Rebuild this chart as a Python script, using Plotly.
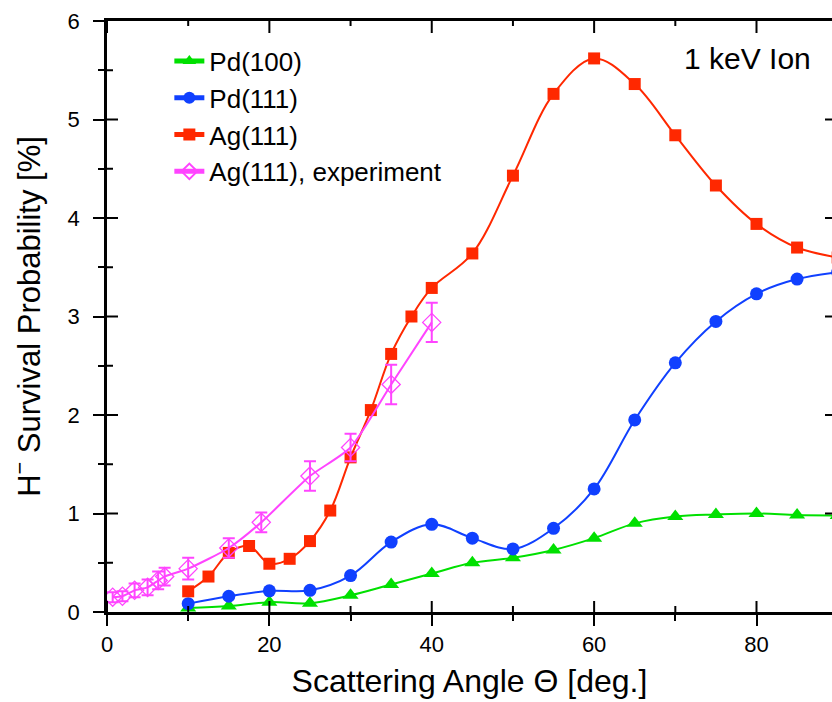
import plotly.graph_objects as go

# ---- data ----
angle_pd100 = [10, 15, 20, 25, 30, 35, 40, 45, 50, 55, 60, 65, 70, 75, 80, 85, 90]
pd100 = [0.04, 0.06, 0.10, 0.09, 0.17, 0.28, 0.39, 0.50, 0.55, 0.63, 0.75, 0.90, 0.97, 0.99, 1.00, 0.985, 0.98]

angle_pd111 = [10, 15, 20, 25, 30, 35, 40, 45, 50, 55, 60, 65, 70, 75, 80, 85, 90]
pd111 = [0.085, 0.16, 0.215, 0.22, 0.37, 0.71, 0.89, 0.75, 0.64, 0.85, 1.25, 1.95, 2.53, 2.95, 3.23, 3.38, 3.45]

angle_ag111 = [10, 12.5, 15, 17.5, 20, 22.5, 25, 27.5, 30, 32.5, 35, 37.5, 40, 45, 50, 55, 60, 65, 70, 75, 80, 85, 90]
ag111 = [0.21, 0.36, 0.60, 0.67, 0.49, 0.54, 0.72, 1.03, 1.57, 2.05, 2.62, 3.00, 3.29, 3.64, 4.43, 5.26, 5.62, 5.36, 4.84, 4.33, 3.94, 3.70, 3.60]

angle_exp = [0.7, 1.9, 3.4, 5.0, 6.3, 7.1, 10, 15, 19, 25, 30, 35, 40]
ag111_exp = [0.15, 0.16, 0.22, 0.25, 0.32, 0.36, 0.44, 0.65, 0.91, 1.38, 1.67, 2.31, 2.94]
ag111_exp_err = [0.05, 0.05, 0.07, 0.08, 0.09, 0.09, 0.11, 0.10, 0.10, 0.15, 0.14, 0.20, 0.20]

x_tick_vals = [0, 20, 40, 60, 80]
x_minor_vals = [10, 30, 50, 70]
y_tick_vals = [0, 1, 2, 3, 4, 5, 6]
y_minor_vals = [0.5, 1.5, 2.5, 3.5, 4.5, 5.5]

FONT = "Liberation Sans, Arial, sans-serif"
GREEN = "#00e000"
BLUE = "#1040ff"
RED = "#ff2800"
MAGENTA = "#ff44ff"

W, H = 832, 702
ML, MR, MT, MB = 107, 0, 21, 90
XR = [0, 89.3]
YR = [0, 6]
# data units per screen pixel (used to size the inner tick marks)
XPU = (XR[1] - XR[0]) / (W - ML - MR)
YPU = (YR[1] - YR[0]) / (H - MT - MB)

fig = go.Figure()

fig.add_trace(go.Scatter(
    x=angle_pd100, y=pd100, name="Pd(100)", mode="lines+markers",
    line=dict(color=GREEN, width=2, shape="spline", smoothing=1.0),
    marker=dict(symbol="triangle-up", size=14, color=GREEN)))
fig.add_trace(go.Scatter(
    x=angle_pd111, y=pd111, name="Pd(111)", mode="lines+markers",
    line=dict(color=BLUE, width=2, shape="spline", smoothing=1.0),
    marker=dict(symbol="circle", size=13, color=BLUE)))
fig.add_trace(go.Scatter(
    x=angle_ag111, y=ag111, name="Ag(111)", mode="lines+markers",
    line=dict(color=RED, width=2, shape="spline", smoothing=1.0),
    marker=dict(symbol="square", size=12, color=RED)))
fig.add_trace(go.Scatter(
    x=angle_exp, y=ag111_exp, name="Ag(111), experiment", mode="lines+markers",
    line=dict(color=MAGENTA, width=2, shape="spline", smoothing=0.6),
    marker=dict(symbol="diamond-open", size=14, color=MAGENTA, line=dict(width=1.3)),
    error_y=dict(type="data", array=ag111_exp_err, visible=True,
                 color=MAGENTA, thickness=2, width=6)))

# inner halves of the crossing ticks and inward ticks of the top / right frame,
# built from the tick value lists and drawn as one line trace
tx, ty = [], []
def vtick(xv, yv, length_px):
    tx.extend([xv, xv, None]); ty.extend([yv, yv + length_px * YPU, None])
def htick(yv, xv, length_px):
    tx.extend([xv, xv + length_px * XPU, None]); ty.extend([yv, yv, None])
for v in x_tick_vals:
    vtick(v, YR[0], 11)       # bottom, inside part
    vtick(v, YR[1], -12)      # top, inward
for v in x_minor_vals:
    vtick(v, YR[0], 6)
    vtick(v, YR[1], -5)
for v in y_tick_vals[1:-1]:
    htick(v, XR[0], 11)       # left, inside part
    htick(v, XR[1], -7)       # right frame (lies just outside the picture)
for v in y_minor_vals:
    htick(v, XR[0], 6)
fig.add_trace(go.Scatter(x=tx, y=ty, mode="lines", line=dict(color="black", width=2),
                         showlegend=False, hoverinfo="skip", connectgaps=False))

common = dict(showgrid=False, zeroline=False, tickcolor="black", tickwidth=2)

fig.update_layout(
    width=W, height=H,
    margin=dict(l=ML, r=MR, t=MT, b=MB),
    paper_bgcolor="white", plot_bgcolor="white",
    font=dict(family=FONT, color="black"),
    showlegend=True,
    legend=dict(x=0.086, y=0.972, xanchor="left", yanchor="top",
                bgcolor="rgba(0,0,0,0)", font=dict(size=26, family=FONT),
                tracegroupgap=0, itemsizing="constant"),
    xaxis=dict(range=XR, tickvals=x_tick_vals, ticks="outside", ticklen=11,
               showline=True, linecolor="black", linewidth=2.5, mirror=True,
               tickfont=dict(size=22, family=FONT),
               minor=dict(ticks="outside", ticklen=6, tickwidth=2, tickvals=x_minor_vals, tickcolor="black"),
               title=dict(text="Scattering Angle Θ [deg.]", font=dict(size=32, family=FONT), standoff=14),
               **common),
    yaxis=dict(range=YR, tickvals=y_tick_vals, ticks="outside", ticklen=11,
               showline=True, linecolor="black", linewidth=2.5,
               tickfont=dict(size=22, family=FONT), ticklabelstandoff=9,
               minor=dict(ticks="outside", ticklen=6, tickwidth=2, tickvals=y_minor_vals, tickcolor="black"),
               title=dict(text="H<sup>−</sup> Survival Probability [%]", font=dict(size=31, family=FONT), standoff=18),
               **common),
    annotations=[dict(text="1 keV Ion", xref="paper", yref="paper", x=0.883, y=0.937,
                      xanchor="center", yanchor="middle", showarrow=False,
                      font=dict(size=30, family=FONT, color="black"))],
)

fig.write_html("out.html")
